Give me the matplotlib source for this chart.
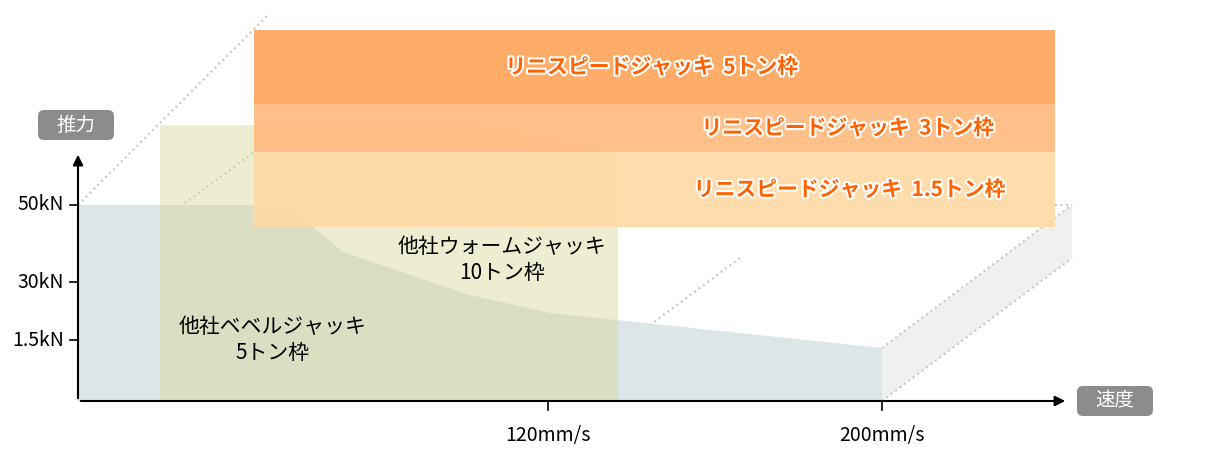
import matplotlib
matplotlib.use('Agg')
import matplotlib.pyplot as plt
import matplotlib.patheffects as pe
from matplotlib.patches import Polygon, FancyBboxPatch

plt.rcParams['font.family'] = ['Noto Sans CJK JP', 'DejaVu Sans']

# 画像座標系 (px) での値
ytick_pos = [205, 282, 340]
ytick_labels = ['50kN', '30kN', '1.5kN']
xtick_pos = [548, 882]
xtick_labels = ['120mm/s', '200mm/s']

bevel_x = [78, 78, 287, 343, 470, 550, 882, 882]
bevel_y = [401, 205, 205, 252, 295, 313, 348, 401]
worm_x = [160, 160, 470, 618, 618]
worm_y = [401, 125, 125, 153, 401]
floor_x = [610, 882, 1072, 1072, 882, 548]
floor_y = [322, 348, 205, 258, 401, 401]

bands_top = [30, 104, 152]
bands_bot = [104, 152, 227]
bands_left, bands_right = 254, 1055
band_colors = ['#ffa55c', '#ffbb80', '#ffd9a4']
band_labels = ['リニスピードジャッキ  5トン枠', 'リニスピードジャッキ  3トン枠', 'リニスピードジャッキ  1.5トン枠']
band_label_x = [652, 848, 850]

dotted = [((78, 205), (268, 15)), ((78, 282), (254, 152)), ((78, 340), (160, 280)),
          ((548, 401), (740, 258)), ((882, 401), (1072, 258)), ((882, 348), (1072, 205)),
          ((1055, 205), (1072, 205))]

fig = plt.figure(figsize=(12.14, 4.67), dpi=100)
ax = fig.add_axes([0, 0, 1, 1])
ax.set_xlim(0, 1214)
ax.set_ylim(467, 0)
ax.axis('off')

ax.add_patch(Polygon(list(zip(floor_x, floor_y)), closed=True, fc='#f0f0f0', ec='none', zorder=1))
ax.add_patch(Polygon(list(zip(bevel_x, bevel_y)), closed=True, fc='#dde5e8', ec='none', zorder=2))
ax.add_patch(Polygon(list(zip(worm_x, worm_y)), closed=True, fc='#d8d89a', ec='none', alpha=0.45, zorder=3))
for t, b, c in zip(bands_top, bands_bot, band_colors):
    ax.add_patch(Polygon([(bands_left, t), (bands_right, t), (bands_right, b), (bands_left, b)],
                         closed=True, fc=c, ec='none', alpha=0.92, zorder=4))
for (p, q) in dotted:
    ax.plot([p[0], q[0]], [p[1], q[1]], ls=':', color='#c8c8c8', lw=1.5, zorder=1.5)

# 軸
ax.annotate('', xy=(1068, 401), xytext=(78, 401),
            arrowprops=dict(arrowstyle='-|>', color='black', lw=1.5, mutation_scale=15), zorder=6)
ax.annotate('', xy=(78, 152), xytext=(78, 401),
            arrowprops=dict(arrowstyle='-|>', color='black', lw=1.5, mutation_scale=15), zorder=6)
for y, lab in zip(ytick_pos, ytick_labels):
    ax.plot([70, 78], [y, y], color='black', lw=1.2, zorder=6)
    ax.text(64, y, lab, ha='right', va='center', fontsize=14, zorder=6)
for x, lab in zip(xtick_pos, xtick_labels):
    ax.plot([x, x], [401, 410], color='black', lw=1.2, zorder=6)
    ax.text(x, 436, lab, ha='center', va='center', fontsize=14, zorder=6)

for (cx, cy, lab) in [(76, 125, '推力'), (1115, 401, '速度')]:
    ax.add_patch(FancyBboxPatch((cx - 38, cy - 15), 76, 30, boxstyle='round,pad=0,rounding_size=6',
                                fc='#8c8c8c', ec='none', zorder=6))
    ax.text(cx, cy, lab, ha='center', va='center', fontsize=14, color='white', zorder=7)

for t, b, lab, x in zip(bands_top, bands_bot, band_labels, band_label_x):
    ax.text(x, (t + b) / 2, lab, ha='center', va='center', fontsize=15, fontweight='bold',
            color='#ff6200', zorder=8, path_effects=[pe.withStroke(linewidth=3, foreground='white')])

ax.text(502, 260, '他社ウォームジャッキ\n10トン枠', ha='center', va='center', fontsize=15,
        linespacing=1.25, zorder=8)
ax.text(273, 340, '他社ベベルジャッキ\n5トン枠', ha='center', va='center', fontsize=15,
        linespacing=1.25, zorder=8)

fig.savefig('out.png', dpi=100)
